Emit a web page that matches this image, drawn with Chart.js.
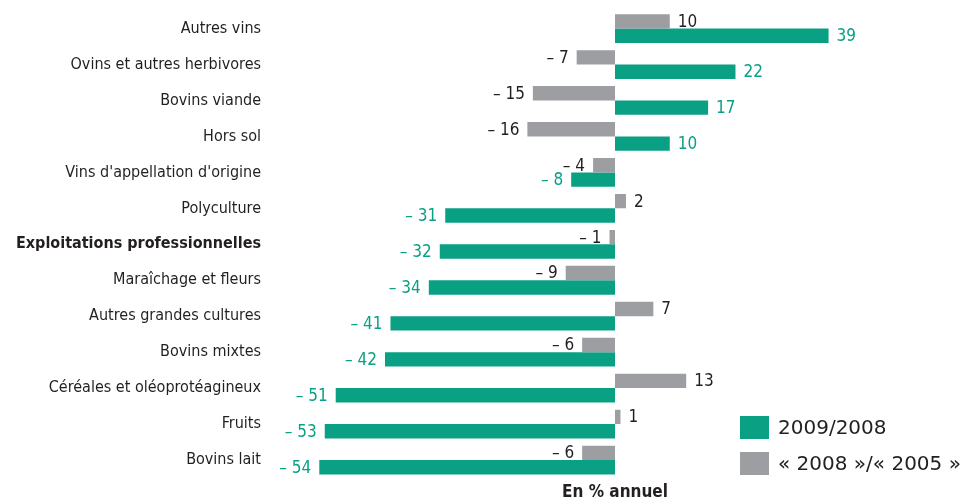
<!DOCTYPE html>
<html lang="fr">
<head>
    <meta charset="UTF-8">
    <title>Exploitations professionnelles</title>
    <style>
        html, body { margin: 0; padding: 0; background: #fff; }
        #wrap { width: 960px; height: 504px; }
    </style>
</head>
<body>

    <div id="wrap">
        <canvas id="myChart"></canvas>
    </div>

    <script src="https://cdn.jsdelivr.net/npm/chart.js"></script>
    <script>
        const categories = [
            'Autres vins',
            'Ovins et autres herbivores',
            'Bovins viande',
            'Hors sol',
            "Vins d'appellation d'origine",
            'Polyculture',
            'Exploitations professionnelles',
            'Maraîchage et fleurs',
            'Autres grandes cultures',
            'Bovins mixtes',
            'Céréales et oléoprotéagineux',
            'Fruits',
            'Bovins lait'
        ];
        const values2009 = [39, 22, 17, 10, -8, -31, -32, -34, -41, -42, -51, -53, -54];
        const values2008 = [10, -7, -15, -16, -4, 2, -1, -9, 7, -6, 13, 1, -6];
        const seriesNames = ['2009/2008', '« 2008 »/« 2005 »'];
        const boldCategory = 'Exploitations professionnelles';

        const GREEN = '#0aa084';
        const GREY = '#9d9ea2';
        const INK = '#231f20';
        const NARROW = "'Liberation Sans Narrow', 'DejaVu Sans Condensed', sans-serif";

        function fmt(v) {
            return v < 0 ? '\u2013 ' + Math.abs(v) : String(v);
        }

        // value labels next to each bar
        const valueLabels = {
            id: 'valueLabels',
            afterDatasetsDraw(chart) {
                const ctx = chart.ctx;
                ctx.save();
                ctx.font = '17px ' + NARROW;
                ctx.textBaseline = 'middle';
                chart.data.datasets.forEach((ds, i) => {
                    const meta = chart.getDatasetMeta(i);
                    meta.data.forEach((bar, j) => {
                        const v = ds.data[j];
                        ctx.fillStyle = ds.labelColor;
                        if (v >= 0) {
                            ctx.textAlign = 'left';
                            ctx.fillText(fmt(v), bar.x + 8, bar.y + 1);
                        } else {
                            ctx.textAlign = 'right';
                            ctx.fillText(fmt(v), bar.x - 8, bar.y + 1);
                        }
                    });
                });
                ctx.restore();
            }
        };

        // legend in the lower right corner
        const cornerLegend = {
            id: 'cornerLegend',
            afterDraw(chart) {
                const ctx = chart.ctx;
                const order = [1, 0];
                ctx.save();
                ctx.font = "20px 'DejaVu Sans', sans-serif";
                ctx.textBaseline = 'middle';
                ctx.textAlign = 'left';
                order.forEach((dsIndex, k) => {
                    const ds = chart.data.datasets[dsIndex];
                    const y = 416 + k * 36;
                    ctx.fillStyle = ds.backgroundColor;
                    ctx.fillRect(740, y, 29, 23);
                    ctx.fillStyle = INK;
                    ctx.fillText(ds.label, 778, y + 13);
                });
                ctx.restore();
            }
        };

        const ctx = document.getElementById('myChart');
        new Chart(ctx, {
            type: 'bar',
            data: {
                labels: categories,
                datasets: [
                    {
                        label: seriesNames[1],
                        data: values2008,
                        backgroundColor: GREY,
                        labelColor: INK,
                        barPercentage: 1,
                        categoryPercentage: 0.8
                    },
                    {
                        label: seriesNames[0],
                        data: values2009,
                        backgroundColor: GREEN,
                        labelColor: GREEN,
                        barPercentage: 1,
                        categoryPercentage: 0.8
                    }
                ]
            },
            options: {
                indexAxis: 'y',
                responsive: true,
                maintainAspectRatio: false,
                animation: false,
                layout: { padding: { top: 3, left: 0, right: 0, bottom: 0 } },
                plugins: {
                    legend: { display: false },
                    tooltip: { enabled: false }
                },
                scales: {
                    x: {
                        min: -63,
                        max: 63,
                        grid: { display: false },
                        border: { display: false },
                        ticks: { display: false },
                        afterFit(scale) { scale.height = 26; },
                        title: {
                            display: true,
                            text: 'En % annuel',
                            color: INK,
                            font: { family: NARROW, size: 17, weight: 'bold' },
                            padding: { top: 4, bottom: 1 }
                        }
                    },
                    y: {
                        grid: { display: false },
                        border: { display: false },
                        afterFit(scale) { scale.width = 270; },
                        ticks: {
                            color: INK,
                            padding: 1,
                            font: (c) => ({
                                family: NARROW,
                                size: 16,
                                weight: categories[c.index] === boldCategory ? 'bold' : 'normal'
                            })
                        }
                    }
                }
            },
            plugins: [valueLabels, cornerLegend]
        });
    </script>

</body>
</html>
